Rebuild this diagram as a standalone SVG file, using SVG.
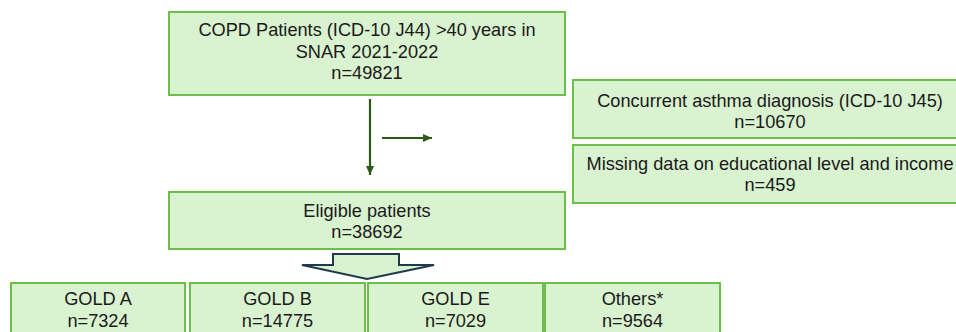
<svg xmlns="http://www.w3.org/2000/svg" width="956" height="332" viewBox="0 0 956 332">
<defs>
<style>
.box{fill:#d9f2d0;stroke:#6cc04a;stroke-width:2}
.t{font-family:"Liberation Sans",Arial,sans-serif;font-size:18.2px;fill:#1a1a1a;text-anchor:middle}
.ln{stroke:#2d5a19;stroke-width:2.2;fill:none}
</style>
<marker id="ah" markerWidth="10" markerHeight="10" refX="9" refY="5" orient="auto" markerUnits="userSpaceOnUse">
<path d="M0,1 L9,5 L0,9 Z" fill="#2d5a19"/>
</marker>
</defs>
<rect width="956" height="332" fill="#ffffff"/>
<g id="connectors">
<line class="ln" x1="370" y1="99" x2="370" y2="175" marker-end="url(#ah)"/>
<line class="ln" x1="382" y1="138" x2="432" y2="138" marker-end="url(#ah)"/>
<path d="M333,254 L399,254 L399,265 L434,265 L367,279 L302,265 L333,265 Z" fill="#d9f2d0" stroke="#1e3a4c" stroke-width="2" stroke-linejoin="miter"/>
</g>
<g id="n_copd">
<rect class="box" x="169" y="12" width="396" height="83"/>
<text class="t" x="367" y="36">COPD Patients (ICD-10 J44) &gt;40 years in</text>
<text class="t" x="367" y="57.5">SNAR 2021-2022</text>
<text class="t" x="367" y="79">n=49821</text>
</g>
<g id="n_asthma">
<rect class="box" x="573" y="80" width="400" height="58"/>
<text class="t" x="770" y="107">Concurrent asthma diagnosis (ICD-10 J45)</text>
<text class="t" x="770" y="128">n=10670</text>
</g>
<g id="n_missing">
<rect class="box" x="573" y="145" width="400" height="58"/>
<text class="t" x="770" y="170">Missing data on educational level and income</text>
<text class="t" x="770" y="191">n=459</text>
</g>
<g id="n_eligible">
<rect class="box" x="169" y="192" width="396" height="57"/>
<text class="t" x="367" y="217">Eligible patients</text>
<text class="t" x="367" y="238">n=38692</text>
</g>
<g id="n_golda">
<rect class="box" x="11" y="283" width="174" height="60"/>
<text class="t" x="98" y="305">GOLD A</text>
<text class="t" x="98" y="327">n=7324</text>
</g>
<g id="n_goldb">
<rect class="box" x="190" y="283" width="175" height="60"/>
<text class="t" x="277.5" y="305">GOLD B</text>
<text class="t" x="277.5" y="327">n=14775</text>
</g>
<g id="n_golde">
<rect class="box" x="368" y="283" width="175" height="60"/>
<text class="t" x="455.5" y="305">GOLD E</text>
<text class="t" x="455.5" y="327">n=7029</text>
</g>
<g id="n_others">
<rect class="box" x="545" y="283" width="175" height="60"/>
<text class="t" x="632.5" y="305">Others*</text>
<text class="t" x="632.5" y="327">n=9564</text>
</g>
</svg>
